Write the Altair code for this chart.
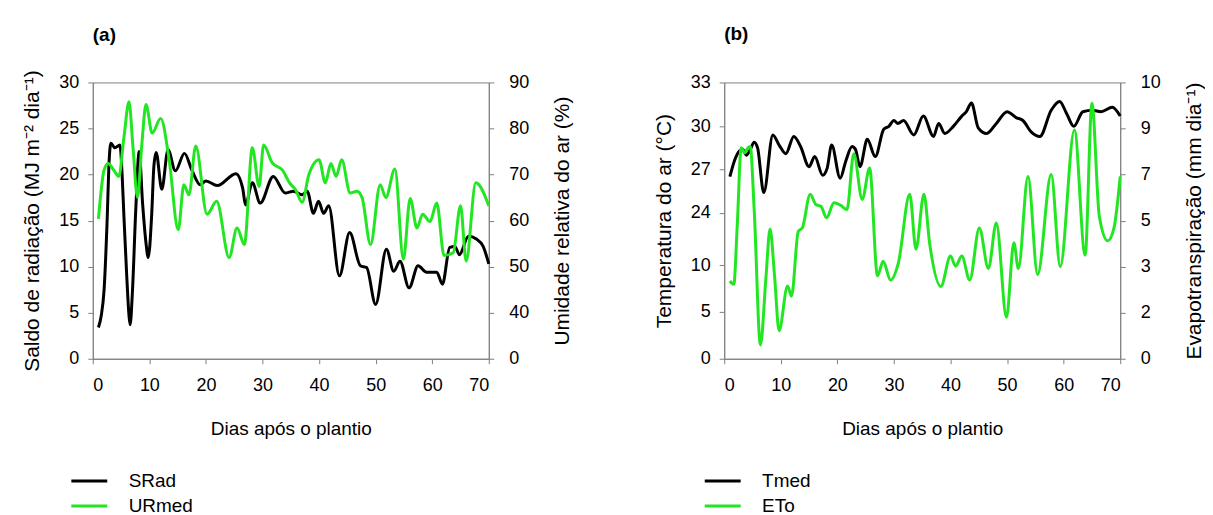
import altair as alt
import pandas as pd

# ---------------- data ----------------
srad_day = [1, 1.5, 2, 2.5, 2.9, 3.2, 3.9, 4.8, 5.2, 5.5, 6, 6.4, 6.6, 7, 7.6, 8.2, 8.8, 9.4, 9.8,
            10.4, 10.8, 11.2, 12.2, 13.3, 14.6, 16.2, 17.5, 19, 20, 22, 25.3, 26.5, 27, 28.2, 29.6,
            31.9, 34, 35.5, 37, 37.9, 39, 39.9, 40.8, 41.7, 43.6, 45.4, 47.3, 48.4, 50, 51.9, 53.2,
            54.3, 55.9, 57.5, 59, 60.8, 61.8, 63.1, 64, 64.8, 66.4, 67.8, 69, 70]
srad_val = [3.4, 4.7, 7.5, 14.4, 21.6, 23.4, 22.9, 23.2, 19.8, 15.5, 9, 4.7, 3.7, 7.2, 16.2, 22.5,
            16.9, 12.6, 11, 15.5, 20.9, 22.4, 18.4, 22.7, 20.4, 22.3, 20.5, 18.9, 19.3, 18.8, 20.1,
            18.5, 16.7, 19.1, 16.9, 19.8, 18.0, 18.2, 17.8, 18.2, 15.8, 17.1, 15.8, 16.6, 9.0, 13.7,
            10.1, 9.9, 5.9, 11.9, 9.5, 10.6, 7.7, 10.1, 9.4, 9.4, 8.1, 12.1, 12.2, 11.3, 13.3, 13.0,
            12.2, 10.3]

ur_day = [1, 2, 2.7, 3.8, 4.6, 5.5, 6.4, 7.1, 7.9, 8.7, 9.4, 10.5, 12, 13.5, 15.1, 16.1, 17, 18.2,
          20.2, 21.9, 24.1, 25.5, 26.8, 28.2, 29.4, 30.2, 31.7, 33.5, 34.9, 35.8, 37, 38.2, 40,
          41.1, 42.1, 43, 44, 45.5, 46.7, 47.6, 49.1, 50.8, 51.8, 53.4, 54.9, 56.1, 57.3, 58.3,
          59.6, 60.8, 62.1, 63.7, 65, 66, 67.7, 70]
ur_val = [60.4, 71, 72.4, 70.8, 69.6, 78, 85.8, 76, 65, 77, 85.2, 79, 82.2, 73.2, 58, 67.8, 65.6,
          76.2, 61.4, 64.2, 52, 58.4, 54.8, 75.8, 67.4, 76.4, 72.6, 71, 68, 66.8, 64, 70, 73.2,
          68.2, 72.4, 69.6, 73.2, 66, 66.4, 65, 54.8, 67.8, 65, 71.2, 51.6, 64.8, 58.4, 61.4,
          59.8, 63.8, 52.4, 53, 63.2, 51.2, 68.2, 63.2]

tmed_day = [1, 1.8, 2.7, 3.3, 3.9, 4.5, 5.3, 5.9, 7.0, 8.6, 9.7, 10.9, 12.3, 13.5, 15, 16, 17.4,
            18.2, 19, 20.5, 21.5, 22.6, 23.2, 24, 25.3, 26.7, 28.2, 29.1, 30, 30.7, 31.7, 33.5,
            35.2, 37, 37.9, 39, 40.5, 42, 42.8, 43.7, 44.9, 46.4, 48.1, 50, 51.6, 52.8, 54.3,
            55.8, 57.8, 59.3, 60.5, 61.8, 63.4, 65.1, 66.6, 68.6, 70]
tmed_val = [26.5, 27.6, 28.3, 28.4, 28.0, 28.3, 28.9, 28.5, 25.4, 29.4, 28.7, 28.1, 29.3, 28.6,
            27.2, 27.9, 26.6, 27.1, 28.7, 26.4, 27.6, 28.6, 28.4, 27.2, 29.1, 27.9, 29.8, 30.0,
            30.4, 30.2, 30.4, 29.4, 30.7, 29.3, 30.2, 29.5, 30.0, 30.7, 31.0, 31.6, 29.9, 29.5,
            30.2, 31.0, 30.6, 30.4, 29.6, 29.3, 31.1, 31.7, 30.9, 30.0, 31.0, 31.1, 31.0, 31.3,
            30.7]

eto_day = [1, 1.7, 2.3, 3, 3.6, 4.2, 4.6, 5.3, 6.4, 7.4, 8.1, 8.9, 9.7, 11.2, 11.9, 13.1, 13.8,
           15.2, 16.2, 17.1, 18.1, 19.4, 20.6, 21.7, 22.9, 24.4, 25.7, 27.1, 28.1, 29.4, 30.8,
           32.8, 33.9, 35.3, 36.3, 38.3, 40, 40.9, 42, 43.4, 45.1, 46.7, 48.1, 49.9, 51.2, 52,
           53.7, 55.4, 57.8, 59.4, 61.9, 63.8, 65, 66.3, 67.8, 68.9, 70]
eto_val = [2.69, 2.62, 4.76, 8.16, 7.94, 8.16, 8.22, 5.48, 0.6, 2.8, 4.64, 2.8, 1.22, 2.58, 2.36,
           4.54, 4.68, 6.14, 5.7, 5.62, 5.12, 5.78, 5.66, 5.48, 7.9, 5.92, 7.28, 2.8, 3.24, 2.71,
           3.18, 6.14, 3.76, 6.14, 4.04, 2.57, 3.46, 3.02, 3.46, 2.71, 4.68, 2.96, 4.9, 1.8, 4.04,
           2.96, 6.92, 2.83, 7.0, 3.0, 8.94, 3.5, 9.55, 5.2, 4.12, 4.68, 6.92]

x_ticks = [0, 10, 20, 30, 40, 50, 60, 70]
srad_ticks = [0, 5, 10, 15, 20, 25, 30]
ur_ticks = [0, 40, 50, 60, 70, 80, 90]
tmed_ticks = [0, 5, 10, 24, 27, 30, 33]
eto_ticks = [0, 2, 3, 5, 7, 9, 10]

# ---------------- style ----------------
GREEN = "#22e622"
FONT = "Liberation Sans"
W, H = 397, 277
AXIS_GRAY = "#808080"
LEG_SYMBOL = "M-2,0L2,0"   # wide, flat line symbol

# pixel positions of the ticks of the broken axes
even = [H * (1 - i / 6) for i in range(7)]
tmed_range = [277, 229.7, 183.3, 130.7, 87.3, 44, 0]


def frame(day, val, name):
    return pd.DataFrame({"day": day, "value": val, "serie": name})


def panel(label, df_l, df_r, l_scale, l_ticks, l_title, r_scale, r_ticks, r_title, names,
          legend_x, title_offset):
    color = alt.Color(
        "serie:N",
        scale=alt.Scale(domain=names, range=["black", GREEN]),
        legend=alt.Legend(
            title=None, orient="none", legendX=legend_x, legendY=389,
            symbolType=LEG_SYMBOL, symbolSize=324, symbolStrokeWidth=3,
            labelFontSize=19, labelFont=FONT, labelColor="black",
            labelOffset=29, rowPadding=4, padding=0,
        ),
    )
    x = alt.X(
        "day:Q",
        scale=alt.Scale(domain=[0, 70], nice=False, zero=False),
        axis=alt.Axis(values=x_ticks, title="Dias após o plantio", titlePadding=25,
                      labelPadding=13, grid=False),
    )
    left = alt.Chart(df_l).mark_line(strokeWidth=3, interpolate="monotone").encode(
        x=x,
        y=alt.Y("value:Q", scale=l_scale,
                axis=alt.Axis(orient="left", values=l_ticks, title=l_title, format="d",
                              titlePadding=16, labelPadding=9, titleFontSize=21,
                              grid=False)),
        color=color,
    )
    right = alt.Chart(df_r).mark_line(strokeWidth=3, interpolate="monotone").encode(
        x=x,
        y=alt.Y("value:Q", scale=r_scale,
                axis=alt.Axis(orient="right", values=r_ticks, title=r_title, format="d",
                              titleAngle=270, titlePadding=44, labelPadding=15,
                              titleFontSize=21, grid=False)),
        color=color,
    )
    return alt.layer(left, right).resolve_scale(y="independent").properties(
        width=W, height=H,
        title=alt.Title(label, anchor="start", frame="group", fontSize=19,
                        fontWeight="bold", font=FONT, offset=title_offset, color="black"),
    )


pa = panel(
    "(a)",
    frame(srad_day, srad_val, "SRad"),
    frame(ur_day, ur_val, "URmed"),
    alt.Scale(domain=[0, 30], nice=False, zero=False),
    srad_ticks,
    "Saldo de radiação (MJ m⁻² dia⁻¹)",
    alt.Scale(domain=ur_ticks, range=even, nice=False, zero=False),
    ur_ticks,
    "Umidade relativa do ar (%)",
    ["SRad", "URmed"],
    -14,
    25,
)

pb = panel(
    "(b)",
    frame(tmed_day, tmed_val, "Tmed"),
    frame(eto_day, eto_val, "ETo"),
    alt.Scale(domain=tmed_ticks, range=tmed_range, nice=False, zero=False),
    tmed_ticks,
    "Temperatura do ar (°C)",
    alt.Scale(domain=eto_ticks, range=even, nice=False, zero=False),
    eto_ticks,
    "Evapotranspiração (mm dia⁻¹)",
    ["Tmed", "ETo"],
    -12,
    30,
)

chart = (
    alt.hconcat(pa, pb, spacing=79)
    .resolve_scale(x="independent", y="independent", color="independent")
    .resolve_legend(color="independent")
    .properties(padding={"left": 13, "top": 15, "right": 0, "bottom": 0},
                background="white")
    .configure_axis(
        labelFont=FONT, titleFont=FONT, labelFontSize=18, titleFontSize=19,
        titleFontWeight="normal", labelColor="black", titleColor="black",
        domainColor=AXIS_GRAY, tickColor=AXIS_GRAY, tickSize=5, grid=False,
    )
    .configure_view(stroke=AXIS_GRAY)
)

chart.save("out.html", embed_options={"renderer": "svg", "actions": False})
